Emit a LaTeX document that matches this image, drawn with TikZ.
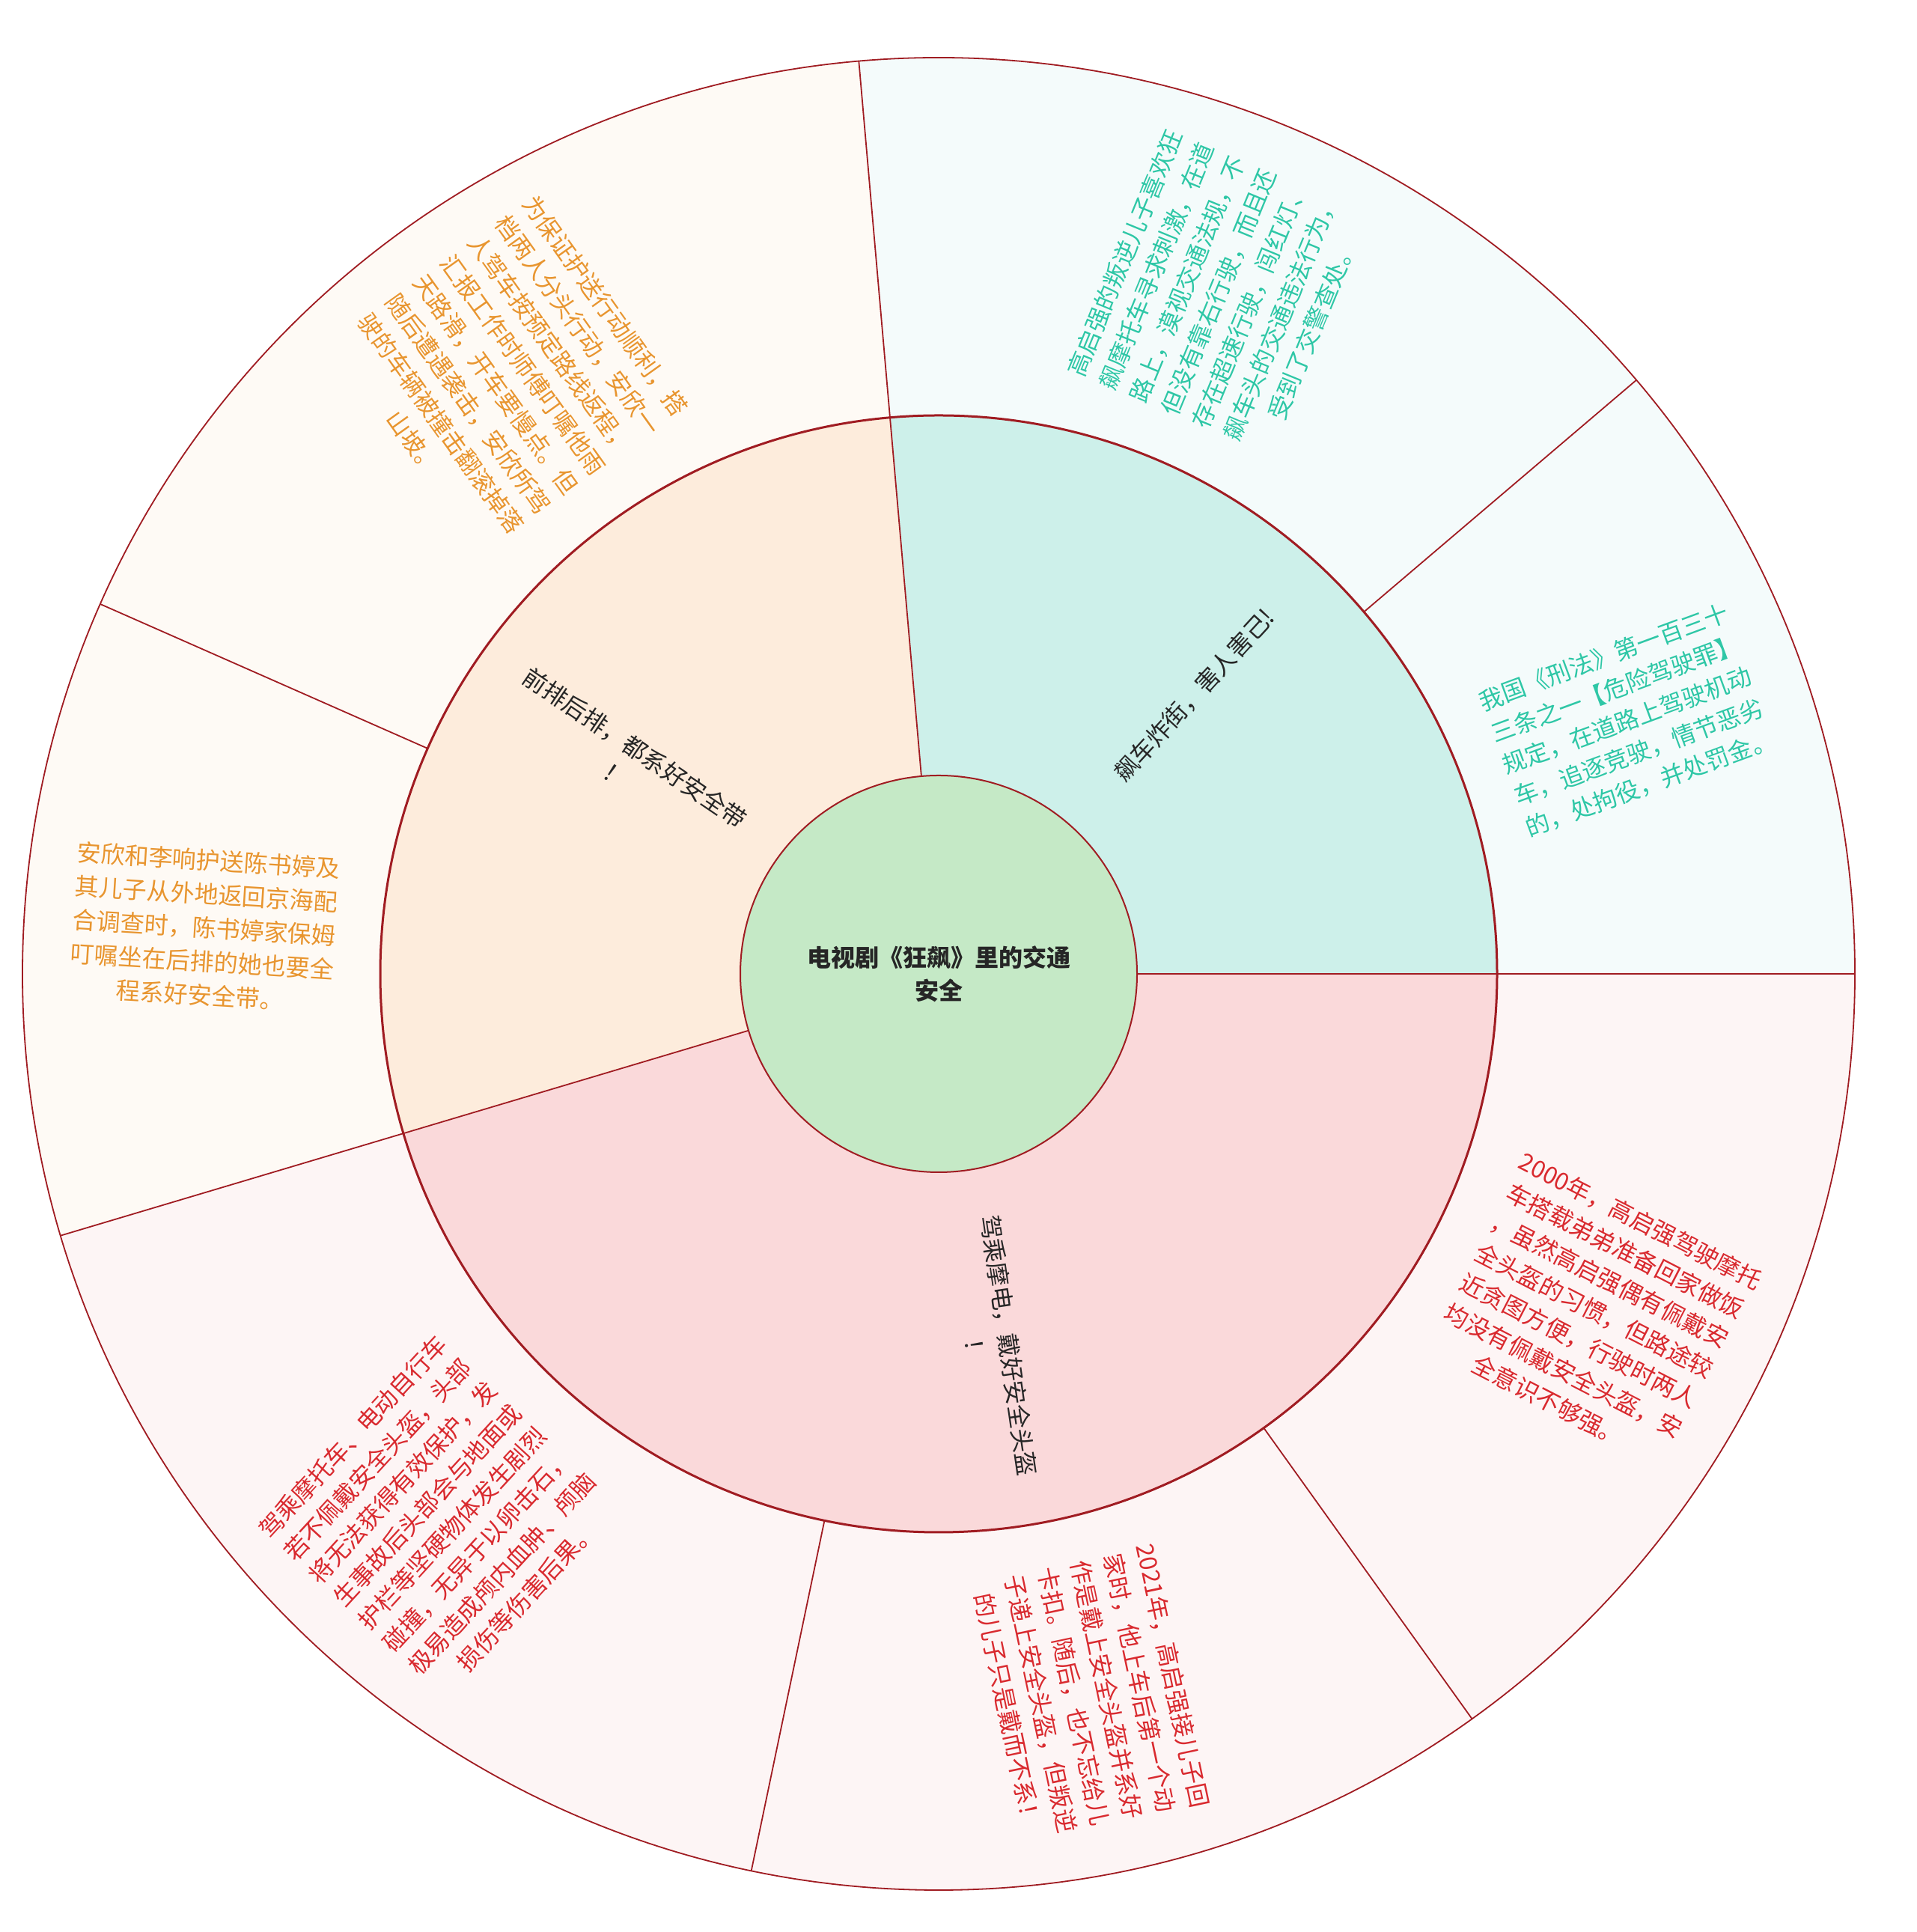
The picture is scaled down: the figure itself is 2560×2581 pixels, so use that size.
\documentclass[tikz,border=0pt]{standalone}
\usepackage{fontspec}
\newfontfamily\cjk{Noto Sans CJK SC}
\usetikzlibrary{calc}
\definecolor{linered}{HTML}{A01C22}
\definecolor{cfill}{HTML}{C5E9C6}
\definecolor{gmid}{HTML}{CDF0EA}
\definecolor{gout}{HTML}{F4FBFB}
\definecolor{omid}{HTML}{FDECDC}
\definecolor{oout}{HTML}{FEFAF5}
\definecolor{pmid}{HTML}{FAD9DA}
\definecolor{pout}{HTML}{FDF5F5}
\definecolor{gtxt}{HTML}{2EC7A6}
\definecolor{otxt}{HTML}{E8952F}
\definecolor{ptxt}{HTML}{D92A2F}
\definecolor{mtxt}{HTML}{262626}
\newcommand\mysector[4]{\fill[#4] (O) -- +(#1:#3) arc[start angle=#1,end angle=#2,radius=#3] -- cycle;}
\tikzset{
  txt/.style={align=center, inner sep=0pt, font=\cjk\fontsize{8}{11.25}\selectfont},
  midtxt/.style={txt, text=mtxt},
  radial/.style={draw=linered, line width=0.45pt},
}
\begin{document}
\begin{tikzpicture}[x=0.25pt,y=0.25pt]
\useasboundingbox (0,0) rectangle (2560,2581);
\fill[white] (0,0) rectangle (2560,2581);
\coordinate (O) at (1254,1280);
% outer ring
\mysector{0}{40.4}{1224}{gout}
\mysector{40.4}{95}{1224}{gout}
\mysector{95}{156.2}{1224}{oout}
\mysector{156.2}{196.6}{1224}{oout}
\mysector{196.6}{258.2}{1224}{pout}
\mysector{258.2}{305.6}{1224}{pout}
\mysector{305.6}{360}{1224}{pout}
% middle ring
\mysector{0}{95}{746}{gmid}
\mysector{95}{196.6}{746}{omid}
\mysector{196.6}{360}{746}{pmid}
% center
\fill[cfill] (O) circle[radius=265];
% radial lines outer
\foreach \a in {40.4,156.2,258.2,305.6}
  \draw[radial] ($(O)+(\a:746)$) -- ($(O)+(\a:1224)$);
\foreach \a in {0,95,196.6}
  \draw[radial] ($(O)+(\a:265)$) -- ($(O)+(\a:1224)$);
% circles
\draw[draw=linered, line width=0.45pt] (O) circle[radius=1224];
\draw[draw=linered, line width=0.75pt] (O) circle[radius=746];
\draw[draw=linered, line width=0.5pt] (O) circle[radius=265];
% center text
\node[txt, text=mtxt, font=\cjk\bfseries\fontsize{8}{11}\selectfont] (root) at (O) {电视剧《狂飙》里的交通\\安全};
% middle texts
\node[midtxt, rotate=47.5] (gm) at ($(O)+(47.5:505)$) {飙车炸街，害人害己!};
\node[midtxt, rotate=-34.2] (om) at ($(O)+(145.8:505)$) {前排后排，都系好安全带\\！};
\node[midtxt, rotate=-81.7] (pm) at ($(O)+(278.3:505)$) {驾乘摩电，戴好安全头盔\\！};
% outer texts
\node[txt, text=gtxt, rotate=67.7] (g1) at ($(O)+(67.7:985)$) {高启强的叛逆儿子喜欢狂\\飙摩托车寻求刺激，在道\\路上，漠视交通法规，不\\但没有靠右行驶，而且还\\存在超速行驶，闯红灯、\\飙车头的交通违法行为，\\受到了交警查处。};
\node[txt, text=gtxt, rotate=20.2] (g2) at ($(O)+(20.2:980)$) {我国《刑法》第一百三十\\三条之一【危险驾驶罪】\\规定，在道路上驾驶机动\\车，追逐竞驶，情节恶劣\\的，处拘役，并处罚金。};
\node[txt, text=otxt, rotate=-54.4] (o1) at ($(O)+(125.6:985)$) {为保证护送行动顺利，搭\\档两人分头行动，安欣一\\人驾车按预定路线返程，\\汇报工作时师傅叮嘱他雨\\天路滑，开车要慢点。但\\随后遭遇袭击，安欣所驾\\驶的车辆被撞击翻滚掉落\\山坡。};
\node[txt, text=otxt, rotate=-3.6] (o2) at ($(O)+(176.4:983)$) {安欣和李响护送陈书婷及\\其儿子从外地返回京海配\\合调查时，陈书婷家保姆\\叮嘱坐在后排的她也要全\\程系好安全带。};
\node[txt, text=ptxt, rotate=47.4] (p1) at ($(O)+(227.4:985)$) {驾乘摩托车、电动自行车\\若不佩戴安全头盔，头部\\将无法获得有效保护，发\\生事故后头部会与地面或\\护栏等坚硬物体发生剧烈\\碰撞，无异于以卵击石，\\极易造成颅内血肿、颅脑\\损伤等伤害后果。};
\node[txt, text=ptxt, rotate=-78.1] (p2) at ($(O)+(281.9:982)$) {2021年，高启强接儿子回\\家时，他上车后第一个动\\作是戴上安全头盔并系好\\卡扣。随后，也不忘给儿\\子递上安全头盔，但叛逆\\的儿子只是戴而不系！};
\node[txt, text=ptxt, rotate=-27.2] (p3) at ($(O)+(332.8:985)$) {2000年，高启强驾驶摩托\\车搭载弟弟准备回家做饭\\，虽然高启强偶有佩戴安\\全头盔的习惯，但路途较\\近贪图方便，行驶时两人\\均没有佩戴安全头盔，安\\全意识不够强。};
\end{tikzpicture}
\end{document}
